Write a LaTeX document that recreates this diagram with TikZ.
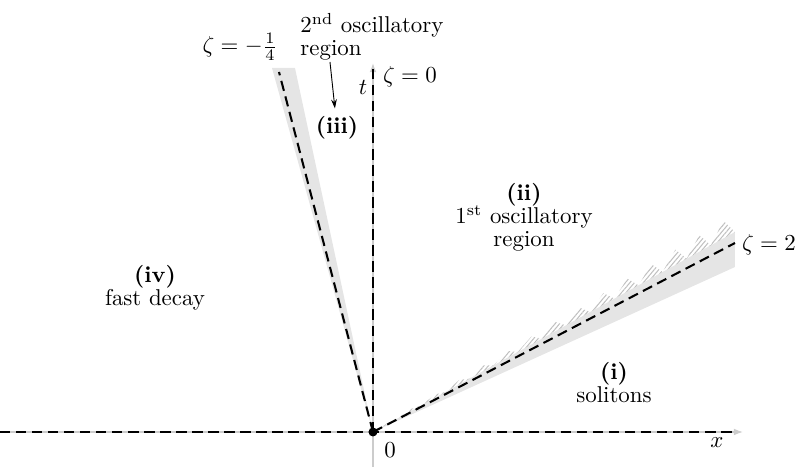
\documentclass[tikz,border=0pt]{standalone}
\usetikzlibrary{calc,arrows.meta,patterns.meta}

\begin{document}
\begin{tikzpicture}[x=1.535cm, y=1.535cm,
    zline/.style={black, line width=0.9pt, dash pattern=on 4.5pt off 2.5pt},
    axisline/.style={gray!40, line width=0.6pt, -{Latex[length=4pt,width=3pt]}},
    region/.style={align=center, inner sep=0pt, anchor=north}]
  \useasboundingbox (-3.73,-0.35) rectangle (4.29,4.32);

  % convenient named points
  \coordinate (O) at (0,0);
  \coordinate (Z0) at (0,3.64);        % zeta = 0
  \coordinate (Zq) at (-0.94,3.60);    % zeta = -1/4
  \coordinate (Zql) at (-1.01,3.64);
  \coordinate (Zqr) at (-0.78,3.64);
  \coordinate (Z2) at (3.62,1.89);     % zeta = 2
  \coordinate (Z2b) at (3.62,1.65);
  \coordinate (Z2t) at (3.62,2.00);
  \coordinate (Z2h) at (3.60,2.17);

  % shaded transition wedges
  \fill[gray!20] (O) -- (Zql) -- (Zqr) -- cycle;
  \fill[gray!20] (O) -- (Z2b) -- (Z2t) -- cycle;
  \fill[pattern={Lines[angle=50,distance=1.5pt,line width=0.45pt]}, pattern color=gray!50]
    (O) \foreach \k [evaluate=\k as \s using \k/15,
                     evaluate=\k as \r using (\k+0.6)/15] in {0,...,14}
      { -- ($(O)!\s!(Z2t)$) -- ($(O)!\r!(Z2h)$) } -- (Z2t) -- cycle;

  % axes
  \draw[axisline] (-3.73,0) -- (3.70,0);
  \draw[axisline] (0,-0.35) -- (0,3.69);

  % rays zeta = const
  \draw[zline] (-3.73,0) -- (3.62,0);
  \draw[zline] (O) -- (Z0);
  \draw[zline] (O) -- (Zq);
  \draw[zline] (O) -- (Z2);
  \fill (O) circle (0.045);

  % axis and ray labels
  \node (xlab) at (3.44,-0.11) {$x$};
  \node (olab) at (0.17,-0.18) {$0$};
  \node (tlab) at (-0.10,3.45) {$t$};
  \node[anchor=west] (z0) at (0.02,3.55) {$\zeta=0$};
  \node[anchor=east, inner sep=1pt] (zq) at (-0.93,3.85) {$\zeta=-\frac14$};
  \node[anchor=west] (z2) at (3.61,1.87) {$\zeta=2$};

  % regions
  \node[region] (sol) at (2.41,0.70) {\textbf{(i)}\\[-2pt]solitons};
  \node[region] (osc1) at (1.51,2.49)
    {\textbf{(ii)}\\[-2pt]1\textsuperscript{st} oscillatory\\[-2pt]region};
  \node[region] (dec) at (-2.18,1.67) {\textbf{(iv)}\\[-2pt]fast decay};
  \node[align=left, inner sep=0pt, anchor=north west] (osc2) at (-0.73,4.19)
    {2\textsuperscript{nd} oscillatory\\[-2pt]region};
  \node (iii) at (-0.36,3.04) {\textbf{(iii)}};
  \coordinate (a3) at (-0.43,3.70);
  \draw[-{Stealth[length=4pt,width=2.5pt]}, thin] (a3) -- (iii);

\end{tikzpicture}
\end{document}
